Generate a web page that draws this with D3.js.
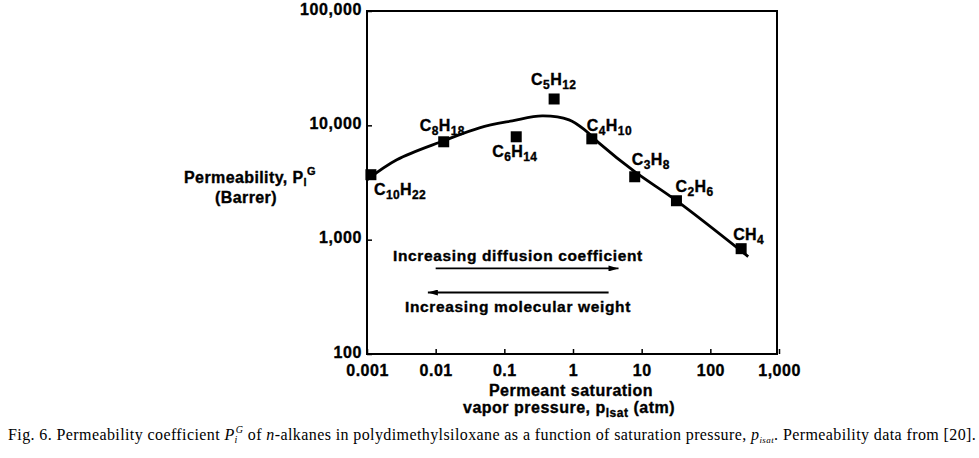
<!DOCTYPE html>
<html>
<head>
<meta charset="utf-8">
<script src="https://cdn.jsdelivr.net/npm/d3@7/dist/d3.min.js"></script>
<style>
  html, body { margin: 0; padding: 0; background: #fff; }
  svg { display: block; }
  .bold { font-family: "Liberation Sans", Arial, sans-serif; font-weight: bold; fill: #000; stroke: #000; stroke-width: 0.35px; }
  .cap { font-family: "Liberation Serif", "Times New Roman", serif; fill: #000; }
</style>
</head>
<body>
<svg id="chart" width="979" height="458"></svg>
<script>
// ---- data ----
const species = ["C10H22", "C8H18", "C6H14", "C5H12", "C4H10", "C3H8", "C2H6", "CH4"];
const satPressure = [0.00114, 0.0131, 0.149, 0.531, 1.88, 7.92, 32.1, 281];   // atm
const permeability = [3700, 7180, 7940, 17000, 7620, 3550, 2190, 834];        // Barrer
const curvePressure = [0.001, 0.00272, 0.0131, 0.0435, 0.1306, 0.356, 0.875, 1.54, 2.38, 7.92, 32.1, 356];
const curvePerm = [3340, 5000, 7330, 9510, 10940, 12100, 11170, 8950, 7030, 3930, 2190, 711];
const xTicks = [0.001, 0.01, 0.1, 1, 10, 100, 1000];
const xTickLabels = ["0.001", "0.01", "0.1", "1", "10", "100", "1,000"];
const yTicks = [100, 1000, 10000, 100000];
const yTickLabels = ["100", "1,000", "10,000", "100,000"];

// label offsets (pixels) relative to each marker
const labelOffsets = [[3, 20], [-24, -11], [-24, 20], [-23, -14], [-5, -8], [-3, -12], [-1, -9], [-8, -9]];

const svg = d3.select("#chart");
const x = d3.scaleLog().domain([0.001, 1000]).range([367, 779]);
const y = d3.scaleLog().domain([100, 100000]).range([354, 11]);

// frame
svg.append("rect")
  .attr("x", x(0.001)).attr("y", y(100000))
  .attr("width", x(1000) - x(0.001) - 2).attr("height", y(100) - y(100000))
  .attr("fill", "none").attr("stroke", "#000").attr("stroke-width", 2);

// axes
const xAxis = d3.axisBottom(x).tickValues(xTicks).tickSize(-5).tickPadding(11)
  .tickFormat((d, i) => xTickLabels[i]);
const gx = svg.append("g").attr("transform", `translate(0,${y(100)})`).call(xAxis);
gx.select(".domain").remove();
gx.selectAll(".tick line").attr("stroke", "#000").attr("stroke-width", 1.5);
gx.selectAll(".tick text").attr("class", "bold").style("font-size", "16px")
  .style("letter-spacing", "0.5px").attr("fill", "#000");

const yAxis = d3.axisLeft(y).tickValues(yTicks).tickSize(-5).tickPadding(5)
  .tickFormat((d, i) => yTickLabels[i]);
const gy = svg.append("g").attr("transform", `translate(${x(0.001)},0)`).call(yAxis);
gy.select(".domain").remove();
gy.selectAll(".tick line").attr("stroke", "#000").attr("stroke-width", 1.5);
gy.selectAll(".tick text").attr("class", "bold").style("font-size", "16px")
  .style("letter-spacing", "0.6px").attr("fill", "#000").attr("dy", "0.2em");

// curve
const line = d3.line()
  .x((d, i) => x(curvePressure[i]))
  .y((d, i) => y(curvePerm[i]))
  .curve(d3.curveCatmullRom.alpha(0.5));
svg.append("path").datum(curvePerm).attr("d", line)
  .attr("fill", "none").attr("stroke", "#000").attr("stroke-width", 2.8);

// markers
const ms = 11;
svg.selectAll("rect.pt").data(species).enter().append("rect")
  .attr("class", "pt")
  .attr("x", (d, i) => x(satPressure[i]) - ms / 2)
  .attr("y", (d, i) => y(permeability[i]) - ms / 2)
  .attr("width", ms).attr("height", ms).attr("fill", "#000");

// formula labels with subscripts
species.forEach((s, i) => {
  const t = svg.append("text").attr("class", "bold").style("font-size", "16px")
    .style("letter-spacing", "0.4px")
    .attr("x", x(satPressure[i]) + labelOffsets[i][0])
    .attr("y", y(permeability[i]) + labelOffsets[i][1]);
  const parts = [...s.matchAll(/([A-Z][a-z]?)(\d*)/g)];
  let down = false;
  parts.forEach(p => {
    t.append("tspan").attr("dy", down ? -4 : 0).text(p[1]);
    down = false;
    if (p[2]) {
      t.append("tspan").attr("dy", 4).style("font-size", "12px").text(p[2]);
      down = true;
    }
  });
});

// y-axis title
const yt = svg.append("text").attr("class", "bold").style("font-size", "16px")
  .style("letter-spacing", "0.4px").attr("text-anchor", "middle")
  .attr("x", 250).attr("y", 183);
yt.append("tspan").text("Permeability, P");
yt.append("tspan").attr("dy", 3).style("font-size", "11px").text("l");
yt.append("tspan").attr("dy", -11).style("font-size", "11px").text("G");
svg.append("text").attr("class", "bold").style("font-size", "16px")
  .style("letter-spacing", "0.4px").attr("text-anchor", "middle")
  .attr("x", 246).attr("y", 203).text("(Barrer)");

// x-axis title
svg.append("text").attr("class", "bold").style("font-size", "16px")
  .style("letter-spacing", "0.5px").attr("text-anchor", "middle")
  .attr("x", 571).attr("y", 396).text("Permeant saturation");
const xt = svg.append("text").attr("class", "bold").style("font-size", "16px")
  .style("letter-spacing", "0.5px").attr("text-anchor", "middle")
  .attr("x", 569).attr("y", 413);
xt.append("tspan").text("vapor pressure, p");
xt.append("tspan").attr("dy", 4).style("font-size", "12px").text("lsat");
xt.append("tspan").attr("dy", -4).text(" (atm)");

// annotations: arrows
const defs = svg.append("defs");
defs.append("marker").attr("id", "ah").attr("viewBox", "0 0 10 6")
  .attr("refX", 10).attr("refY", 3).attr("markerWidth", 11).attr("markerHeight", 6)
  .attr("markerUnits", "userSpaceOnUse").attr("orient", "auto")
  .append("path").attr("d", "M0,0 L10,3 L0,6 Z").attr("fill", "#000");

const arrowSpecs = [
  { x1: 0.01, x2: 4.6, yv: 560 },
  { x1: 3.3, x2: 0.0077, yv: 345 }
];
arrowSpecs.forEach(a => {
  svg.append("line").attr("x1", x(a.x1)).attr("x2", x(a.x2))
    .attr("y1", y(a.yv)).attr("y2", y(a.yv))
    .attr("stroke", "#000").attr("stroke-width", 1.8).attr("marker-end", "url(#ah)");
});
svg.append("text").attr("class", "bold").style("font-size", "15.5px")
  .style("letter-spacing", "0.65px")
  .attr("x", 393).attr("y", 261).text("Increasing diffusion coefficient");
svg.append("text").attr("class", "bold").style("font-size", "15.5px")
  .style("letter-spacing", "0.65px")
  .attr("x", 405).attr("y", 312).text("Increasing molecular weight");

// caption
const cap = svg.append("text").attr("class", "cap").style("font-size", "16px")
  .style("letter-spacing", "0.4px")
  .attr("x", 8).attr("y", 440);
cap.append("tspan").text("Fig. 6. Permeability coefficient ");
cap.append("tspan").style("font-style", "italic").text("P");
cap.append("tspan").attr("dy", 3).style("font-size", "10px").style("font-style", "italic").text("i");
cap.append("tspan").attr("dy", -10).attr("dx", -2).style("font-size", "10px").style("font-style", "italic").text("G");
cap.append("tspan").attr("dy", 7).text(" of ");
cap.append("tspan").style("font-style", "italic").text("n");
cap.append("tspan").text("-alkanes in polydimethylsiloxane as a function of saturation pressure, ");
cap.append("tspan").style("font-style", "italic").text("p");
cap.append("tspan").attr("dy", 3).style("font-size", "9px").style("font-style", "italic").text("isat");
cap.append("tspan").attr("dy", -3).text(". Permeability data from [20].");
</script>
</body>
</html>
